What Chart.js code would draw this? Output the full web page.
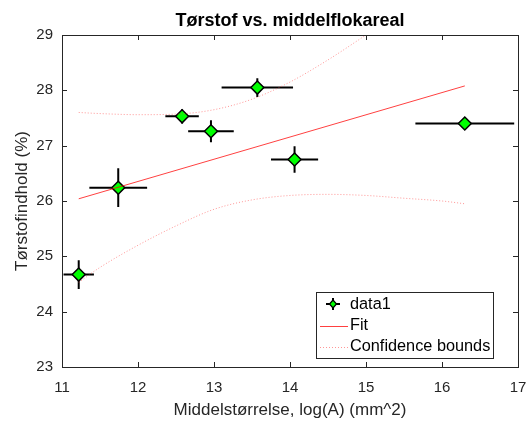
<!DOCTYPE html>
<html>
<head>
<meta charset="utf-8">
<script src="https://cdn.jsdelivr.net/npm/chart.js@4.4.1/dist/chart.umd.min.js"></script>
<style>
  html, body { margin:0; padding:0; background:#fff; }
  #wrap { width:529px; height:422px; }
</style>
</head>
<body>
<div id="wrap"><canvas id="c" width="529" height="422"></canvas></div>
<script>
// ================= DATA =================
const xVals = [11.22, 11.74, 12.58, 12.96, 13.57, 14.06, 16.30];
const yVals = [24.67, 26.24, 27.53, 27.26, 28.05, 26.75, 27.40];
const xErr  = [0.20, 0.38, 0.22, 0.30, 0.47, 0.31, 0.65];
const yErr  = [0.26, 0.35, 0.13, 0.20, 0.17, 0.24, 0.08];

const fitX = [11.22, 16.30];
const fitY = [26.04, 28.08];

const boundX = [11.22, 11.5, 12.0, 12.5, 13.0, 13.5, 14.0, 14.5, 15.0, 15.5, 16.0, 16.3];
const upperY = [27.60, 27.58, 27.56, 27.57, 27.65, 27.84, 28.15, 28.55, 29.00, 29.45, 29.90, 30.18];
const lowerY = [24.53, 24.80, 25.20, 25.55, 25.85, 26.02, 26.10, 26.12, 26.10, 26.05, 26.00, 25.95];

const xTicks = [11, 12, 13, 14, 15, 16, 17];
const yTicks = [23, 24, 25, 26, 27, 28, 29];

const TXT = "#262626";
const FONT = "'Liberation Sans', Arial, sans-serif";

const pts = (xs, ys) => xs.map((x, i) => ({x: x, y: ys[i]}));

// ================= PLUGINS =================
const errorBars = {
    id: "errorBars",
    beforeDatasetsDraw(chart){
        const {ctx, scales:{x, y}} = chart;
        ctx.save();
        ctx.beginPath();
        ctx.rect(chart.chartArea.left, chart.chartArea.top, chart.chartArea.width, chart.chartArea.height);
        ctx.clip();
        ctx.strokeStyle = "#000";
        ctx.lineWidth = 2;
        xVals.forEach((xv, i) => {
            const px = x.getPixelForValue(xv), py = y.getPixelForValue(yVals[i]);
            ctx.beginPath();
            ctx.moveTo(x.getPixelForValue(xv - xErr[i]), py);
            ctx.lineTo(x.getPixelForValue(xv + xErr[i]), py);
            ctx.moveTo(px, y.getPixelForValue(yVals[i] - yErr[i]));
            ctx.lineTo(px, y.getPixelForValue(yVals[i] + yErr[i]));
            ctx.stroke();
        });
        ctx.restore();
    }
};

const frame = {
    id: "frame",
    afterDraw(chart){
        const {ctx, chartArea:a, scales:{x, y}} = chart;
        ctx.save();
        ctx.strokeStyle = TXT;
        ctx.lineWidth = 1;
        // box
        ctx.strokeRect(Math.round(a.left)+0.5, Math.round(a.top)+0.5, Math.round(a.width), Math.round(a.height));
        // inward ticks
        ctx.beginPath();
        xTicks.forEach(t => {
            const px = Math.round(x.getPixelForValue(t)) + 0.5;
            ctx.moveTo(px, a.bottom); ctx.lineTo(px, a.bottom - 5);
            ctx.moveTo(px, a.top); ctx.lineTo(px, a.top + 5);
        });
        yTicks.forEach(t => {
            const py = Math.round(y.getPixelForValue(t)) + 0.5;
            ctx.moveTo(a.left, py); ctx.lineTo(a.left + 5, py);
            ctx.moveTo(a.right, py); ctx.lineTo(a.right - 5, py);
        });
        ctx.stroke();

        // title
        ctx.fillStyle = "#000";
        ctx.font = "bold 18px " + FONT;
        ctx.textAlign = "center";
        ctx.textBaseline = "alphabetic";
        ctx.fillText("Tørstof vs. middelflokareal", (a.left + a.right) / 2, 26);

        // axis titles
        ctx.fillStyle = TXT;
        ctx.font = "17px " + FONT;
        ctx.textBaseline = "middle";
        ctx.fillText("Middelstørrelse, log(A) (mm^2)", (a.left + a.right) / 2, 410);
        ctx.save();
        ctx.translate(22, (a.top + a.bottom) / 2);
        ctx.rotate(-Math.PI / 2);
        ctx.fillText("Tørstofindhold (%)", 0, 0);
        ctx.restore();

        // legend
        const L = 316.5, T = 292.5, W = 177, H = 66;
        ctx.fillStyle = "#fff";
        ctx.fillRect(L, T, W, H);
        ctx.strokeStyle = TXT;
        ctx.strokeRect(L, T, W, H);

        // data1 icon
        const ix = 333, iy = 304;
        ctx.strokeStyle = "#000";
        ctx.lineWidth = 2;
        ctx.beginPath();
        ctx.moveTo(ix - 7, iy); ctx.lineTo(ix + 7, iy);
        ctx.moveTo(ix, iy - 6); ctx.lineTo(ix, iy + 6);
        ctx.stroke();
        ctx.lineWidth = 1.2;
        ctx.fillStyle = "#00ff00";
        ctx.beginPath();
        ctx.moveTo(ix, iy - 4); ctx.lineTo(ix + 3.5, iy); ctx.lineTo(ix, iy + 4); ctx.lineTo(ix - 3.5, iy);
        ctx.closePath();
        ctx.fill(); ctx.stroke();

        // fit icon
        ctx.strokeStyle = "rgba(255,0,0,0.75)";
        ctx.lineWidth = 1;
        ctx.beginPath();
        ctx.moveTo(320, 326.5); ctx.lineTo(348, 326.5);
        ctx.stroke();
        // bounds icon
        ctx.strokeStyle = "rgba(255,80,80,0.6)";
        ctx.setLineDash([1, 2]);
        ctx.beginPath();
        ctx.moveTo(320, 347.5); ctx.lineTo(348, 347.5);
        ctx.stroke();
        ctx.setLineDash([]);

        ctx.fillStyle = "#000";
        ctx.font = "16.3px " + FONT;
        ctx.textAlign = "left";
        ctx.textBaseline = "middle";
        ctx.fillText("data1", 350, 305);
        ctx.fillText("Fit", 350, 326);
        ctx.fillText("Confidence bounds", 350, 347);
        ctx.restore();
    }
};

// ================= CHART =================
new Chart(document.getElementById("c"), {
    type: "scatter",
    data: {
        datasets: [
            {
                label: "Confidence bounds upper",
                data: pts(boundX, upperY),
                showLine: true,
                borderColor: "rgba(255,80,80,0.6)",
                borderWidth: 1,
                borderDash: [1, 2],
                pointRadius: 0,
                cubicInterpolationMode: "monotone"
            },
            {
                label: "Confidence bounds lower",
                data: pts(boundX, lowerY),
                showLine: true,
                borderColor: "rgba(255,80,80,0.6)",
                borderWidth: 1,
                borderDash: [1, 2],
                pointRadius: 0,
                cubicInterpolationMode: "monotone"
            },
            {
                label: "Fit",
                data: pts(fitX, fitY),
                showLine: true,
                borderColor: "rgba(255,0,0,0.75)",
                borderWidth: 1,
                pointRadius: 0
            },
            {
                label: "data1",
                data: pts(xVals, yVals),
                showLine: false,
                pointStyle: "rectRot",
                pointRadius: 6.5,
                pointBackgroundColor: "#00ff00",
                pointBorderColor: "#000",
                pointBorderWidth: 1.5
            }
        ]
    },
    options: {
        responsive: false,
        animation: false,
        devicePixelRatio: 1,
        layout: { padding: { top: 35, right: 11, left: 0, bottom: 0 } },
        plugins: {
            legend: { display: false },
            tooltip: { enabled: false },
            title: { display: false }
        },
        scales: {
            x: {
                type: "linear",
                min: 11, max: 17,
                afterFit: s => { s.height = 55; s.paddingRight = 0; s.paddingLeft = 0; },
                afterBuildTicks: s => { s.ticks = xTicks.map(v => ({value: v})); },
                grid: { display: false, drawTicks: false },
                border: { display: false },
                ticks: { color: TXT, font: { family: FONT, size: 15 }, padding: 12, maxRotation: 0 }
            },
            y: {
                type: "linear",
                min: 23, max: 29,
                afterFit: s => { s.width = 62; },
                afterBuildTicks: s => { s.ticks = yTicks.map(v => ({value: v})); },
                grid: { display: false, drawTicks: false },
                border: { display: false },
                ticks: { color: TXT, font: { family: FONT, size: 15 }, padding: 9 }
            }
        }
    },
    plugins: [errorBars, frame]
});
</script>
</body>
</html>
